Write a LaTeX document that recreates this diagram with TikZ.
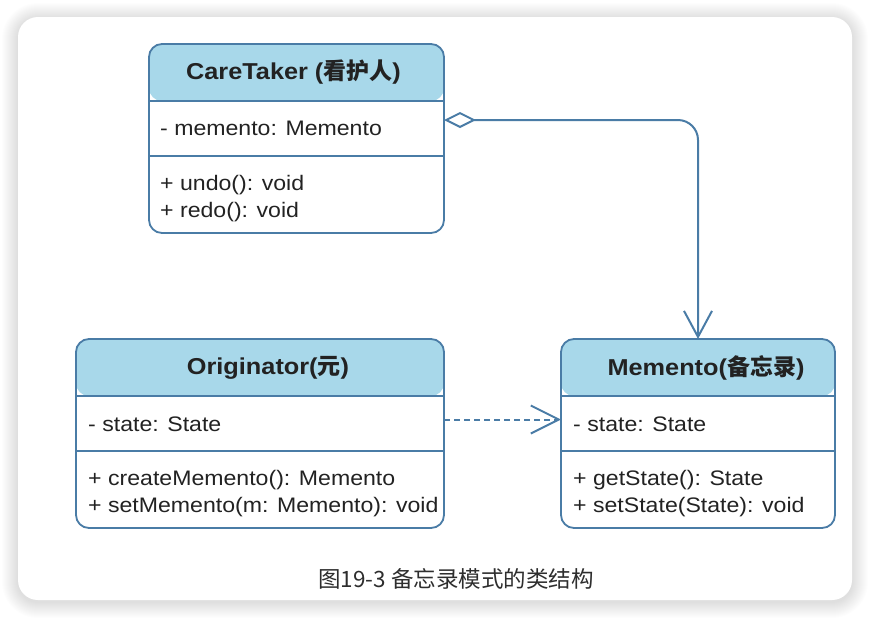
\documentclass[tikz,border=0pt]{standalone}
\usepackage{fontspec}
\setmainfont{Liberation Sans}[FakeStretch=1.1]
\newfontfamily\cjk{Noto Sans CJK SC}
\usetikzlibrary{arrows.meta}
\definecolor{umlline}{HTML}{4A7CA6}
\definecolor{umlhead}{HTML}{A8D8EA}
\definecolor{umltext}{HTML}{222222}
\definecolor{captext}{HTML}{2E2E2E}

\begin{document}
\begin{tikzpicture}[x=1pt, y=-1pt,
  classbox/.style={draw=umlline, line width=1.8pt, rounded corners=13pt, inner sep=0pt, outer sep=0pt, minimum height=189pt,
    path picture={\fill[umlhead] (path picture bounding box.north west) rectangle ([yshift=-57pt]path picture bounding box.north east);}},
  divider/.style={draw=umlline, line width=1.8pt},
  headtext/.style={text=umltext, inner sep=0pt, font=\fontsize{23pt}{28pt}\selectfont\bfseries},
  bodytext/.style={text=umltext, inner sep=0pt, anchor=west, align=left, font=\fontsize{21pt}{27pt}\selectfont},
  aggr/.style={draw=umlline, line width=2pt, rounded corners=20pt,
    arrows={Diamond[open, length=32pt, width=16pt]-Straight Barb[length=26pt, width=28pt]}},
  depend/.style={draw=umlline, line width=2pt, dash pattern=on 6pt off 4pt,
    arrows={-Straight Barb[length=28pt, width=28pt]}},
]
\useasboundingbox (0,0) rectangle (870,619);
% Card with shadow
\foreach \i in {1,...,16}
  \fill[black, opacity=0.009, rounded corners=20pt+\i pt] (18-\i,19-\i) rectangle (852+\i,602+\i);
\fill[white, rounded corners=20pt] (18,17) rectangle (852,600);
% CareTaker
\node[classbox, minimum width=295pt] (caretaker) at (296.5,138.5) {};
\draw[divider] ([yshift=-57pt]caretaker.north west) -- ([yshift=-57pt]caretaker.north east);
\draw[divider] ([yshift=-112pt]caretaker.north west) -- ([yshift=-112pt]caretaker.north east);
\node[headtext] (ctname) at ([xshift=-3pt, yshift=-28.5pt]caretaker.north) {CareTaker ({\cjk 看护人})};
\node[bodytext] (ctattr) at ([xshift=11pt, yshift=-84pt]caretaker.north west) {- memento: Memento};
\node[bodytext] (ctops) at ([xshift=11pt, yshift=-155pt]caretaker.north west) {+ undo(): void\\+ redo(): void};
% Originator
\node[classbox, minimum width=368pt] (originator) at (260,433.5) {};
\draw[divider] ([yshift=-57pt]originator.north west) -- ([yshift=-57pt]originator.north east);
\draw[divider] ([yshift=-112pt]originator.north west) -- ([yshift=-112pt]originator.north east);
\node[headtext] (orname) at ([xshift=8pt, yshift=-28.5pt]originator.north) {Originator({\cjk 元})};
\node[bodytext] (orattr) at ([xshift=12pt, yshift=-85pt]originator.north west) {- state: State};
\node[bodytext] (orops) at ([xshift=12pt, yshift=-155pt]originator.north west) {+ createMemento(): Memento\\+ setMemento(m: Memento): void};
% Memento
\node[classbox, minimum width=274pt] (memento) at (698,433.5) {};
\draw[divider] ([yshift=-57pt]memento.north west) -- ([yshift=-57pt]memento.north east);
\draw[divider] ([yshift=-112pt]memento.north west) -- ([yshift=-112pt]memento.north east);
\node[headtext] (mename) at ([xshift=8pt, yshift=-28.5pt]memento.north) {Memento({\cjk 备忘录})};
\node[bodytext] (meattr) at ([xshift=12pt, yshift=-85pt]memento.north west) {- state: State};
\node[bodytext] (meops) at ([xshift=12pt, yshift=-155pt]memento.north west) {+ getState(): State\\+ setState(State): void};
% Relations
\draw[aggr] ([yshift=18.5pt]caretaker.east) -| (memento.north);
\draw[depend] ([yshift=14pt]originator.east) -- ([yshift=14pt]memento.west);
% Caption
\node[text=captext, inner sep=0pt, font=\cjk\fontsize{22.5pt}{26pt}\selectfont] (caption) at (456,579) {图19-3 备忘录模式的类结构};
\end{tikzpicture}
\end{document}
